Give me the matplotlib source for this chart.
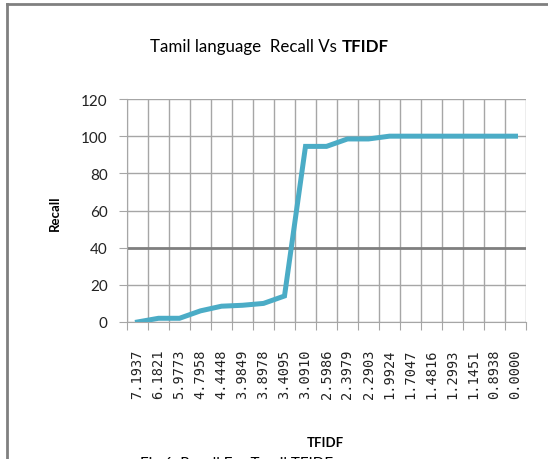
#Libraries
import matplotlib
matplotlib.use('Agg')
import matplotlib.pyplot as plt
from matplotlib.lines import Line2D

#Data
tfidf_labels=['7.1937','6.1821','5.9773','4.7958','4.4448','3.9849','3.8978','3.4095','3.0910',
              '2.5986','2.3979','2.2903','1.9924','1.7047','1.4816','1.2993','1.1451','0.8938','0.0000']
recall=[0,2,2,6,8.5,9,10,14,94.5,94.5,98.5,98.5,100,100,100,100,100,100,100]
y_ticks=[0,20,40,60,80,100,120]

W,H=548,460
fig=plt.figure(figsize=(W/100,H/100),dpi=100)
ax=fig.add_axes([127/W,1-323/H,(526-127)/W,(323-100)/H])

x=list(range(len(recall)))
grid_c='#a6a6a6'

#Gridlines (category boundaries)
for b in range(len(recall)+1):
    ax.axvline(b-0.5,color=grid_c,lw=1,zorder=1)
for yv in y_ticks:
    if yv==40:
        ax.axhline(yv,color='#7f7f7f',lw=2,zorder=1)
    else:
        ax.axhline(yv,color=grid_c,lw=1,zorder=1)

ax.plot(x,recall,color='#4bacc6',lw=3.6,solid_joinstyle='miter',zorder=3)

ax.set_xlim(-0.5,len(recall)-0.5)
ax.set_ylim(0,120)

#Ticks
ax.set_xticks([b-0.5 for b in range(len(recall)+1)])
ax.set_xticklabels([])
ax.set_xticks(x,minor=True)
ax.set_xticklabels(tfidf_labels,minor=True,rotation=90,family='DejaVu Sans Mono',fontsize=9.8,color='#222222')
ax.tick_params(axis='x',which='major',length=6,color=grid_c,direction='out')
ax.tick_params(axis='x',which='minor',length=0,pad=19)
ax.set_yticks(y_ticks)
ax.set_yticklabels([str(v) for v in y_ticks],family='Lato',fontsize=11,color='#222222')
ax.tick_params(axis='y',length=6,color=grid_c,pad=8)

for s in ['top','right']:
    ax.spines[s].set_visible(False)
ax.spines['left'].set_color(grid_c)
ax.spines['bottom'].set_color(grid_c)

#Labels
fig.text(55/W,1-213/H,'Recall',rotation=90,ha='center',va='center',family='Lato',fontweight='bold',fontsize=9.5)
fig.text(325/W,1-443/H,'TFIDF',ha='center',va='center',family='Lato',fontweight='bold',fontsize=9.5)
t1=fig.text(150/W,1-47/H,'Tamil language  Recall Vs ',ha='left',va='center',family='Lato',fontsize=12.2)
fig.canvas.draw()
bb=t1.get_window_extent()
fig.text(bb.x1/W,1-47/H,'TFIDF',ha='left',va='center',family='Lato',fontweight='bold',fontsize=12.2)
fig.text(140/W,1-457/H,'Fig.6. Recall For Tamil TFIDF',ha='left',va='top',family='Lato',fontsize=11)

#Frame
fig.add_artist(Line2D([7/W,7/W],[0,1-5/H],transform=fig.transFigure,color='#808080',lw=2))
fig.add_artist(Line2D([7/W,1],[1-5/H,1-5/H],transform=fig.transFigure,color='#808080',lw=2))

fig.savefig('out.png',dpi=100)
